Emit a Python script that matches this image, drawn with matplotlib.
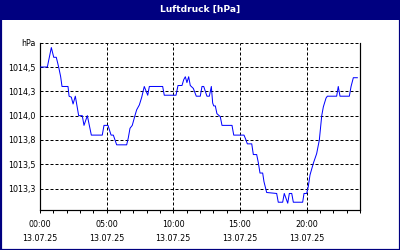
import matplotlib
matplotlib.use("Agg")
import matplotlib.pyplot as plt
from matplotlib.patches import Rectangle
from matplotlib.ticker import MultipleLocator

# --- data (hours since 00:00 on 13.07.25, pressure in hPa) ---
hours = [0.00, 0.55, 0.85, 1.03, 1.22, 1.40, 1.55, 1.65, 2.10, 2.18, 2.35, 2.48,
         2.65, 2.90, 3.17, 3.30, 3.55, 3.85, 4.67, 4.80, 5.10, 5.33, 5.50, 5.75,
         6.50, 6.62, 6.75, 6.92, 7.12, 7.25, 7.45, 7.63, 7.82, 8.08, 8.20, 9.20,
         9.32, 10.20, 10.35, 10.65, 10.78, 10.90, 11.02, 11.15, 11.27, 11.50, 11.72,
         12.02, 12.15, 12.28, 12.52, 12.70, 12.85, 12.95, 13.03, 13.15, 13.27, 13.52,
         13.65, 14.40, 14.53, 15.30, 15.45, 15.55, 15.88, 16.00, 16.25, 16.37, 16.50,
         16.70, 16.80, 17.00, 17.75, 17.87, 18.20, 18.32, 18.58, 18.70, 18.88, 19.00,
         19.70, 19.80, 20.00, 20.12, 20.25, 20.50, 20.75, 20.95, 21.13, 21.25, 21.45,
         21.55, 22.25, 22.37, 22.50, 23.20, 23.33, 23.50, 23.80]
pressure = [1014.50, 1014.50, 1014.70, 1014.60, 1014.60, 1014.50, 1014.40, 1014.30,
            1014.30, 1014.20, 1014.19, 1014.12, 1014.20, 1014.00, 1014.00, 1013.90,
            1014.00, 1013.80, 1013.80, 1013.90, 1013.90, 1013.80, 1013.80, 1013.70,
            1013.70, 1013.77, 1013.87, 1013.90, 1014.00, 1014.06, 1014.11, 1014.19,
            1014.30, 1014.21, 1014.30, 1014.30, 1014.21, 1014.21, 1014.31, 1014.31,
            1014.37, 1014.40, 1014.34, 1014.40, 1014.31, 1014.28, 1014.20, 1014.20,
            1014.30, 1014.30, 1014.20, 1014.20, 1014.30, 1014.13, 1014.10, 1014.10,
            1014.02, 1013.99, 1013.90, 1013.90, 1013.80, 1013.80, 1013.75, 1013.71,
            1013.71, 1013.60, 1013.60, 1013.52, 1013.41, 1013.41, 1013.32, 1013.21,
            1013.20, 1013.11, 1013.11, 1013.20, 1013.10, 1013.20, 1013.20, 1013.11,
            1013.11, 1013.20, 1013.20, 1013.27, 1013.39, 1013.51, 1013.61, 1013.75,
            1014.00, 1014.09, 1014.18, 1014.20, 1014.20, 1014.30, 1014.20, 1014.20,
            1014.30, 1014.39, 1014.39]

title = "Luftdruck [hPa]"
y_ticks = [1013.25, 1013.5, 1013.75, 1014.0, 1014.25, 1014.5, 1014.75]
y_labels = ["1013,3", "1013,5", "1013,8", "1014,0", "1014,3", "1014,5", "hPa"]
x_ticks = [0, 5, 10, 15, 20]
x_labels = ["00:00\n13.07.25", "05:00\n13.07.25", "10:00\n13.07.25",
            "15:00\n13.07.25", "20:00\n13.07.25"]

NAVY = "#000080"
PX = 0.72  # one pixel in points at 100 dpi

fig = plt.figure(figsize=(4, 2.5), dpi=100)
fig.patch.set_facecolor("white")

# title bar and frame
fig.patches.append(Rectangle((0, 230 / 250), 1, 20 / 250, transform=fig.transFigure,
                             facecolor=NAVY, edgecolor="none", zorder=0))
fig.patches.append(Rectangle((0.5 / 400, 0.5 / 250), 399 / 400, 249 / 250,
                             transform=fig.transFigure, facecolor="none",
                             edgecolor=NAVY, linewidth=2.2 * PX, zorder=5))
fig.text(0.5, 240.5 / 250, title, color="white", fontsize=6.6, fontweight="bold",
         ha="center", va="center", family="DejaVu Sans")

ax = fig.add_axes([40 / 400, 40 / 250, 320 / 400, (210 - 42.7) / 250])
ax.plot(hours, pressure, color="#0000FF", linewidth=1.0 * PX, zorder=3)

ax.set_xlim(0, 24)
ax.set_ylim(1013.03, 1014.75)

ax.set_xticks(x_ticks)
ax.set_xticklabels(x_labels)
ax.xaxis.set_minor_locator(MultipleLocator(1))
ax.set_yticks(y_ticks)
ax.set_yticklabels(y_labels)

ax.tick_params(axis="x", which="both", direction="out", length=3 * PX, width=1 * PX,
               labelsize=5.8, pad=5, color="black")
ax.tick_params(axis="y", which="both", length=0, labelsize=5.8, pad=3)
for lab in ax.get_xticklabels():
    lab.set_linespacing(1.75)

for s in ["left", "right", "bottom"]:
    ax.spines[s].set_linewidth(1.2 * PX)
    ax.spines[s].set_color("black")
ax.spines["top"].set_visible(False)

ax.grid(True, which="major", color="black", linewidth=1 * PX, linestyle=(0, (3, 2)))
ax.set_axisbelow(False)

fig.savefig("out.png", dpi=100, facecolor="white")
